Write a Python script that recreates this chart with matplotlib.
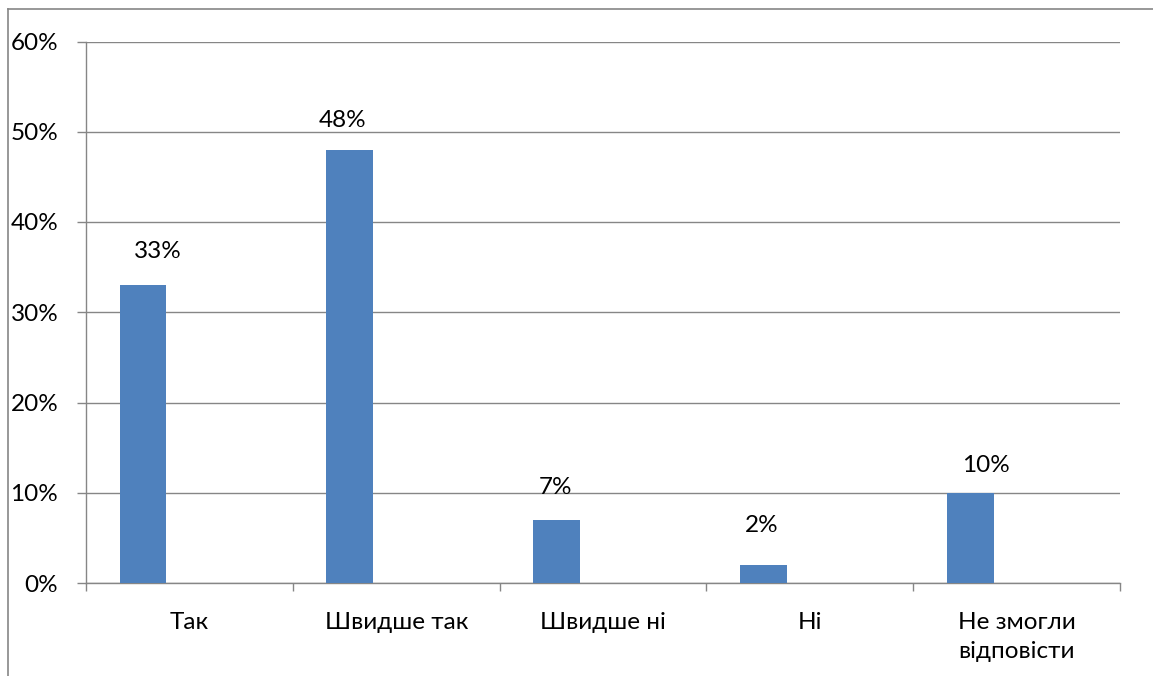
import numpy as np
import matplotlib
matplotlib.use('Agg')
import matplotlib.pyplot as plt
from matplotlib.lines import Line2D
from matplotlib.ticker import PercentFormatter

categories = ['Так', 'Швидше так', 'Швидше ні', 'Ні', 'Не змогли\nвідповісти']
values = [33, 48, 7, 2, 10]
y_ticks = [0, 10, 20, 30, 40, 50, 60]

# label nudges in pixels (dx, dy of baseline above bar top), as placed in the original
label_dx = [14.5, -7.5, -1.5, -2, 15.5]
label_dy = [27, 23, 26, 33, 21]

plt.rcParams['font.family'] = ['Lato', 'DejaVu Sans']
grey = '#868686'
bar_col = '#4F81BD'

fig = plt.figure(figsize=(11.53, 6.76), dpi=100)
ax = fig.add_axes([86 / 1153, 93 / 676, 1034 / 1153, 541.5 / 676])

x = np.arange(len(categories)) + 0.5
bx = x - 0.2244
ax.bar(bx, values, width=0.226, color=bar_col, zorder=3)

for i in range(len(values)):
    ax.annotate(f'{values[i]}%', (bx[i], values[i]), xytext=(label_dx[i], label_dy[i]),
                textcoords='offset pixels', ha='center', va='baseline',
                fontsize=17.5, color='black')

ax.set_xlim(0, len(categories))
ax.set_ylim(0, 60)
ax.set_yticks(y_ticks)
ax.yaxis.set_major_formatter(PercentFormatter(decimals=0))
ax.grid(axis='y', color=grey, linewidth=1.0, zorder=0)

ax.set_xticks(np.arange(len(categories) + 1))
ax.set_xticklabels([])
ax.set_xticks(x, minor=True)
ax.set_xticklabels(categories, minor=True)
for lab in ax.get_xticklabels(minor=True):
    lab.set_linespacing(1.45)
ax.tick_params(axis='x', which='major', direction='out', length=6, width=1.0, color=grey)
ax.tick_params(axis='x', which='minor', length=0, pad=21, labelsize=17.5)
ax.tick_params(axis='y', direction='out', length=6.5, width=1.0, color=grey, pad=13.5, labelsize=17.5)

for s in ['top', 'right']:
    ax.spines[s].set_visible(False)
ax.spines['left'].set_color(grey)
ax.spines['bottom'].set_color(grey)
ax.spines['left'].set_linewidth(1.0)
ax.spines['bottom'].set_linewidth(1.0)

# outer chart-area frame (only the top and left edges are in view)
fig.add_artist(Line2D([7.5 / 1153, 1], [1 - 8.5 / 676, 1 - 8.5 / 676], color=grey, linewidth=1.2,
                      transform=fig.transFigure))
fig.add_artist(Line2D([7.5 / 1153, 7.5 / 1153], [0, 1 - 8.5 / 676], color=grey, linewidth=1.2,
                      transform=fig.transFigure))

fig.savefig('out.png', dpi=100)
